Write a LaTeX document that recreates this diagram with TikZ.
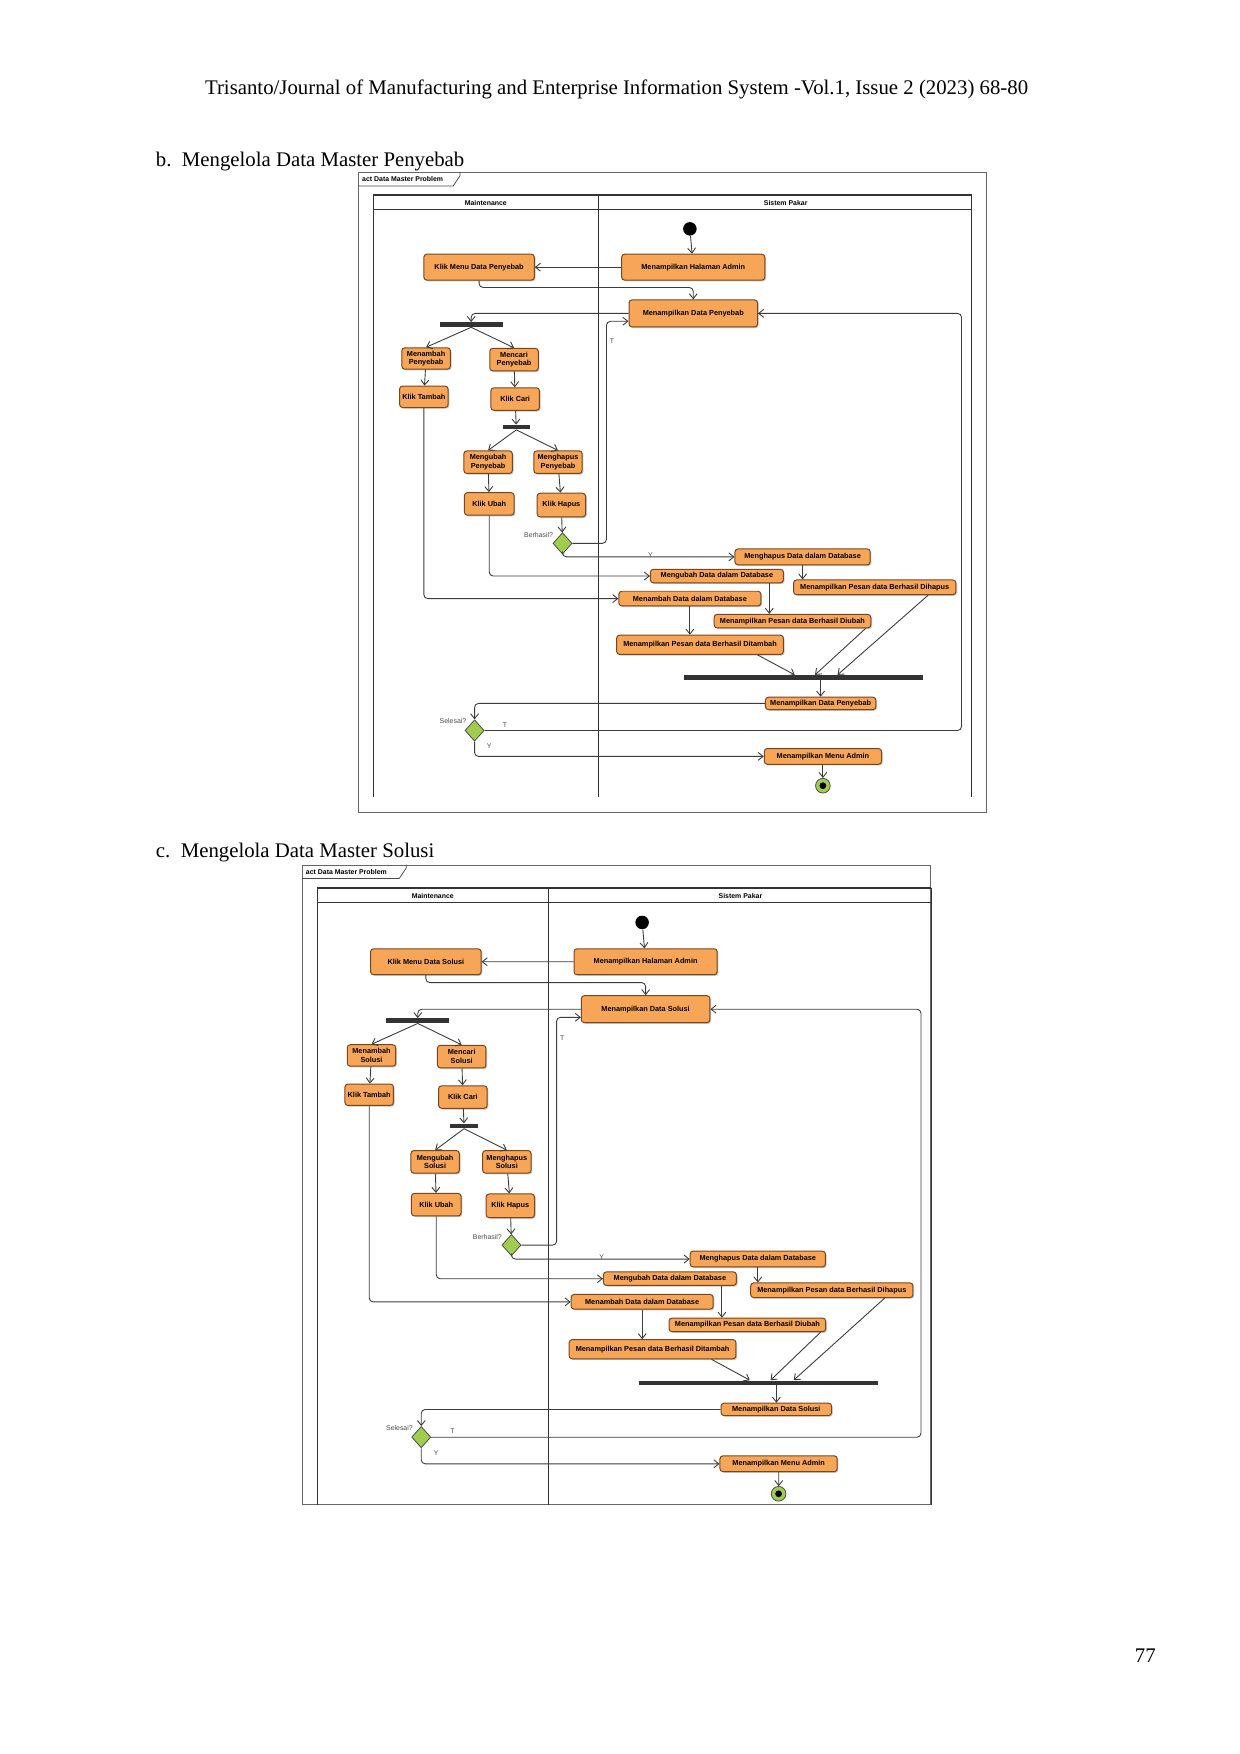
\documentclass[tikz,border=0pt]{standalone}
\usepackage{fontspec}
\setmainfont{Liberation Serif}
\newfontfamily\uml{Liberation Sans}
\usetikzlibrary{arrows.meta,shapes.geometric,shadows}
\definecolor{actfill}{RGB}{247,166,88}
\definecolor{actdraw}{RGB}{120,70,30}
\definecolor{decfill}{RGB}{160,205,80}
\definecolor{lin}{RGB}{60,60,60}
\tikzset{
  act/.style={draw=actdraw,fill=actfill,rounded corners=1.5pt,line width=0.5pt,
    font=\uml\bfseries\fontsize{3.7}{4.4}\selectfont,align=center,inner sep=0pt,
    drop shadow={shadow xshift=0.6pt,shadow yshift=-0.6pt,fill=black!45}},
  bar/.style={fill=black!80,inner sep=0pt,minimum height=0.08cm},
  dec/.style={diamond,draw=black!70,fill=decfill,inner sep=0pt,minimum width=0.34cm,minimum height=0.38cm},
  lbl/.style={font=\uml\fontsize{3.5}{4}\selectfont,text=black!70,inner sep=0pt},
  flow/.style={draw=lin,line width=0.45pt,-{Straight Barb[length=2.5pt,width=4pt]}},
  page/.style={font=\fontsize{10.5}{12}\selectfont,inner sep=0pt}
}
\newcommand\actn[6]{\node[act,minimum width=#4*0.02cm,minimum height=#5*0.02cm] (#1) at (#2,#3) {#6};}
\newcommand\drawdiag[2]{%
  \node[draw=black!60,line width=0.5pt,minimum width=557*0.02cm,minimum height=567*0.02cm,anchor=north west,inner sep=0pt] (#1frame) at (0,0) {};
  \draw[black!70,line width=0.4pt] (0,12) -- (84,12) -- (90,3) -- (90,0);
  \node[lbl,anchor=west,text=black,font=\uml\bfseries\fontsize{3.5}{4}\selectfont] (#1tab) at (3,6) {act Data Master Problem};
  \draw[black!80,line width=1.1pt] (13,20) -- (544,20);
  \draw[black!80,line width=0.4pt] (13,33) -- (544,33);
  \draw[black!80,line width=0.4pt] (13,20) -- (13,554) (213,20) -- (213,554) (544,20) -- (544,554);
  \node[lbl,text=black,font=\uml\bfseries\fontsize{3.5}{4}\selectfont] (#1ml) at (113,27) {Maintenance};
  \node[lbl,text=black,font=\uml\bfseries\fontsize{3.5}{4}\selectfont] (#1sl) at (379,27) {Sistem Pakar};
  \node[circle,fill=black,inner sep=0pt,minimum size=0.24cm] (#1start) at (294,50) {};
  \actn{#1adm}{297}{84}{127}{23}{Menampilkan Halaman Admin}
  \actn{#1km}{107}{84}{98}{23}{Klik Menu Data #2}
  \actn{#1dp}{297}{125}{114}{24}{Menampilkan Data #2}
  \node[bar,minimum width=56*0.02cm] (#1f1) at (100,135) {};
  \actn{#1tam}{60}{165}{43}{19}{Menambah\\#2}
  \actn{#1car}{138}{166}{43}{20}{Mencari\\#2}
  \actn{#1kt}{58}{199}{43}{19}{Klik Tambah}
  \actn{#1kc}{139}{201}{43}{20}{Klik Cari}
  \node[bar,minimum width=24*0.02cm] (#1f2) at (140,226) {};
  \actn{#1ubh}{115}{257}{43}{20}{Mengubah\\#2}
  \actn{#1hps}{177}{257}{43}{20}{Menghapus\\#2}
  \actn{#1ku}{116}{294}{44}{20}{Klik Ubah}
  \actn{#1kh}{180}{295}{43}{21}{Klik Hapus}
  \node[dec] (#1d1) at (181,329) {};
  \node[lbl,anchor=east] (#1bl) at (173,322) {Berhasil?};
  \actn{#1hdb}{394}{341}{120}{14}{Menghapus Data dalam Database}
  \actn{#1udb}{318}{358}{118}{12}{Mengubah Data dalam Database}
  \actn{#1tdb}{294}{378}{126}{13}{Menambah Data dalam Database}
  \actn{#1ph}{458}{368}{144}{13}{Menampilkan Pesan data Berhasil Dihapus}
  \actn{#1pu}{385}{398}{139}{12}{Menampilkan Pesan data Berhasil Diubah}
  \actn{#1pt}{303}{419}{148}{17}{Menampilkan Pesan data Berhasil Ditambah}
  \node[bar,minimum width=212*0.02cm] (#1join) at (395,448) {};
  \actn{#1dp2}{410}{471}{98}{11}{Menampilkan Data #2}
  \node[dec] (#1d2) at (103,495) {};
  \node[lbl,anchor=east] (#1sel) at (96,487) {Selesai?};
  \actn{#1ma}{412}{518}{104}{14}{Menampilkan Menu Admin}
  \node[circle,draw=black!70,fill=decfill,inner sep=0pt,minimum size=0.26cm] (#1end) at (412,544) {};
  \node[circle,fill=black,inner sep=0pt,minimum size=0.12cm] (#1endd) at (412,544) {};
  \coordinate (#1k) at (297,102);
  \coordinate (#1tl) at (220,132);
  \coordinate (#1lp) at (535,125);
  \draw[flow] (#1start) -- (#1adm);
  \draw[flow] (#1adm) -- (#1km);
  \draw[flow,rounded corners=2pt] (#1km.south) |- (#1k) -- (#1dp.north);
  \draw[flow,rounded corners=2pt] (#1dp.west) -| (#1f1.north);
  \draw[flow] (#1f1.south) -- (#1tam.north);
  \draw[flow] (#1f1.south) -- (#1car.north);
  \draw[flow] (#1tam) -- (#1kt);
  \draw[flow] (#1car) -- (#1kc);
  \draw[flow] (#1kc) -- (#1f2);
  \draw[flow] (#1f2.south) -- (#1ubh.north);
  \draw[flow] (#1f2.south) -- (#1hps.north);
  \draw[flow] (#1ubh) -- (#1ku);
  \draw[flow] (#1hps) -- (#1kh);
  \draw[flow] (#1kh) -- (#1d1);
  \draw[flow,rounded corners=2pt] (#1d1.east) -| (#1tl) -- (#1tl -| #1dp.west) node[lbl,pos=0,left=3pt,yshift=-18*0.02cm] {};
  \node[lbl] (#1tlab) at (225,150) {T};
  \draw[flow,rounded corners=2pt] (#1d1.south) |- (#1hdb.west);
  \node[lbl] (#1ylab) at (259,339) {Y};
  \draw[flow,rounded corners=2pt] (#1ku.south) |- (#1udb.west);
  \draw[flow,rounded corners=2pt] (#1kt.south) |- (#1tdb.west);
  \draw[flow] (#1hdb.south) -- (#1hdb.south |- #1ph.north);
  \draw[flow] ([xshift=-13*0.02cm]#1udb.south east) -- ([xshift=-13*0.02cm]#1udb.south east |- #1pu.north);
  \draw[flow] (#1tdb.south) -- (#1tdb.south |- #1pt.north);
  \draw[flow] ([xshift=51*0.02cm]#1pt.south) -- ([xshift=-8*0.02cm]#1join.north);
  \draw[flow] ([xshift=-5*0.02cm]#1pu.south east) -- ([xshift=10*0.02cm]#1join.north);
  \draw[flow] ([xshift=-25*0.02cm]#1ph.south east) -- ([xshift=30*0.02cm]#1join.north);
  \draw[flow] (#1dp2.north |- #1join.south) -- (#1dp2.north);
  \draw[flow,rounded corners=2pt] (#1dp2.west) -| (#1d2.north);
  \draw[flow,rounded corners=2pt] (#1d2.east) -| (#1lp) -- (#1dp.east);
  \node[lbl] (#1t2) at (130,490) {T};
  \draw[flow,rounded corners=2pt] (#1d2.south) |- (#1ma.west);
  \node[lbl] (#1y2) at (116,509) {Y};
  \draw[flow] (#1ma) -- (#1end);
}
\begin{document}
\begin{tikzpicture}[x=0.02cm,y=-0.02cm]
\useasboundingbox (0,0) rectangle (1100,1556);
\fill[white] (0,0) rectangle (1100,1556);
\node[page] (hdr) at (547,79) {Trisanto/Journal of Manufacturing and Enterprise Information System -Vol.1, Issue 2 (2023) 68-80};
\node[page,anchor=base west] (secb) at (138,148) {b.\enspace Mengelola Data Master Penyebab};
\node[page,anchor=base west] (secc) at (138,761) {c.\enspace Mengelola Data Master Solusi};
\node[page] (pn) at (1016,1469) {77};
\begin{scope}[shift={(318,153)}]
\drawdiag{b}{Penyebab}
\end{scope}
\begin{scope}[shift={(268,767)},scale=1.026]
\drawdiag{c}{Solusi}
\end{scope}
\end{tikzpicture}
\end{document}
